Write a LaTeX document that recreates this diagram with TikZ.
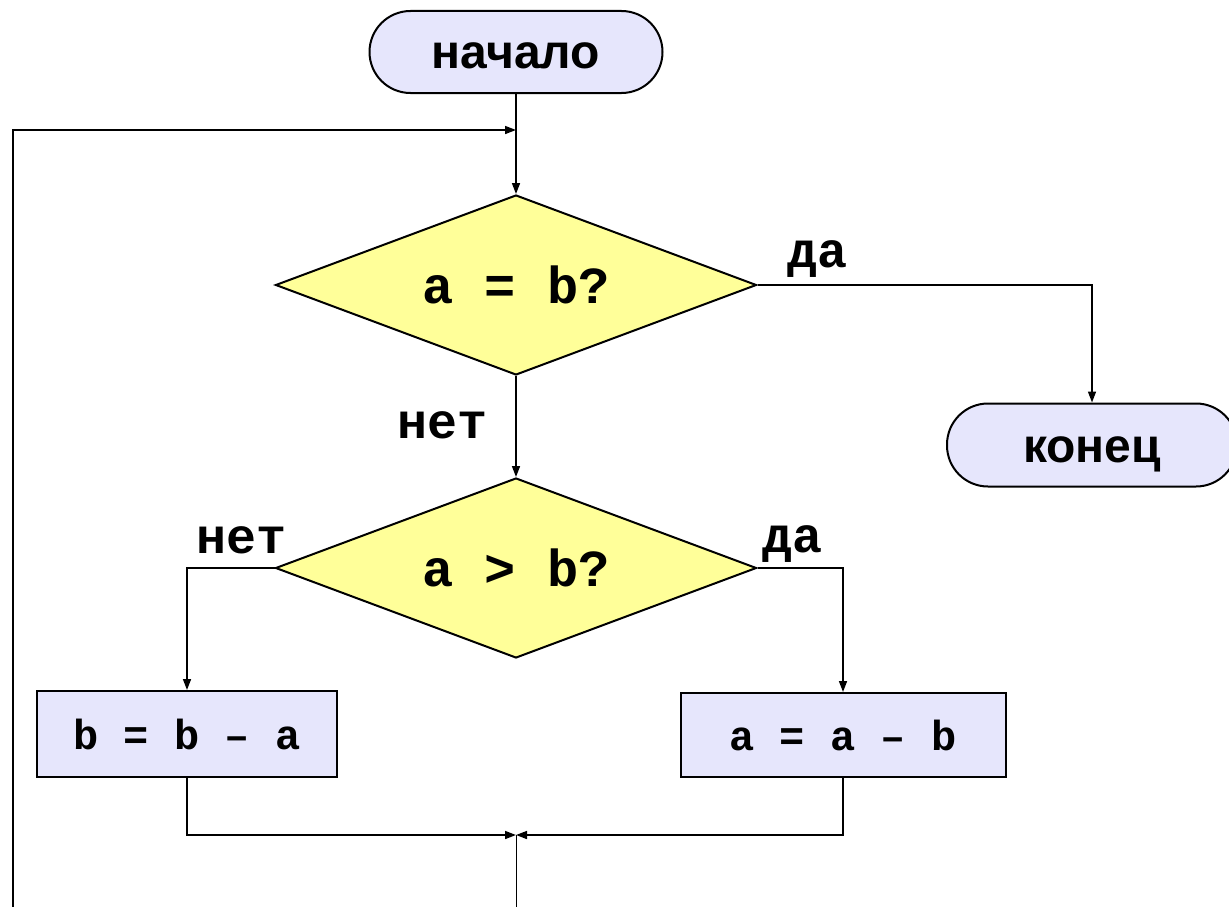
\documentclass[tikz,border=0pt]{standalone}
\usepackage{fontspec}
\setmainfont{Liberation Sans}
\newfontfamily\monof{Liberation Mono}
\usetikzlibrary{shapes.geometric,arrows.meta}
\definecolor{termfill}{RGB}{230,230,252}
\definecolor{decfill}{RGB}{255,255,153}
\tikzset{
  term/.style={draw, line width=2pt, fill=termfill, rounded corners=41pt,
    minimum width=293pt, minimum height=82pt, inner sep=0pt,
    text height=34pt, text depth=0pt,
    font=\fontsize{48}{56}\selectfont\bfseries},
  decision/.style={draw, line width=2pt, fill=decfill, diamond, aspect=2.67,
    minimum width=481pt, minimum height=180pt, inner sep=0pt,
    font=\monof\fontsize{52}{60}\selectfont\bfseries},
  procbox/.style={draw, line width=2pt, fill=termfill, inner sep=0pt,
    minimum height=86pt, font=\monof\fontsize{42}{50}\selectfont\bfseries},
  lbl/.style={anchor=base, inner sep=0pt, font=\monof\fontsize{50}{58}\selectfont\bfseries},
  arr/.style={line width=1.6pt, -{Triangle[length=11pt,width=8pt]}},
  ln/.style={line width=1.6pt}
}
\begin{document}
\begin{tikzpicture}[x=1pt,y=-1pt]
\useasboundingbox (0,0) rectangle (1229,907);
\node[term] (start) at (516,52) {начало};
\node[decision] (d1) at (516,285) {a = b?};
\node[term, minimum width=290pt, minimum height=83pt] (end) at (1092,445) {конец};
\node[decision] (d2) at (516,568) {a > b?};
\node[procbox, minimum width=300pt] (b1) at (187,734) {b = b – a};
\node[procbox, minimum width=325pt, minimum height=84pt] (b2) at (843,735) {a = a – b};
\coordinate (lb) at (13,907);
\coordinate (lj) at (516,130);
\coordinate (mj) at (516,835);
\coordinate (bot) at (516,907);
\draw[arr] (start.south) -- (d1.north);
\draw[arr] (lb) |- (lj);
\draw[arr] (d1.east) -| (end.north);
\draw[arr] (d1.south) -- (d2.north);
\draw[arr] (d2.west) -| (b1.north);
\draw[arr] (d2.east) -| (b2.north);
\draw[arr] (b1.south) |- (mj);
\draw[arr] (b2.south) |- (mj);
\draw[line width=1pt] (mj) -- (bot);
\node[lbl] (l1) at (817,267) {да};
\node[lbl] (l2) at (443,438) {нет};
\node[lbl] (l3) at (242,553) {нет};
\node[lbl] (l4) at (792,552) {да};
\end{tikzpicture}
\end{document}
